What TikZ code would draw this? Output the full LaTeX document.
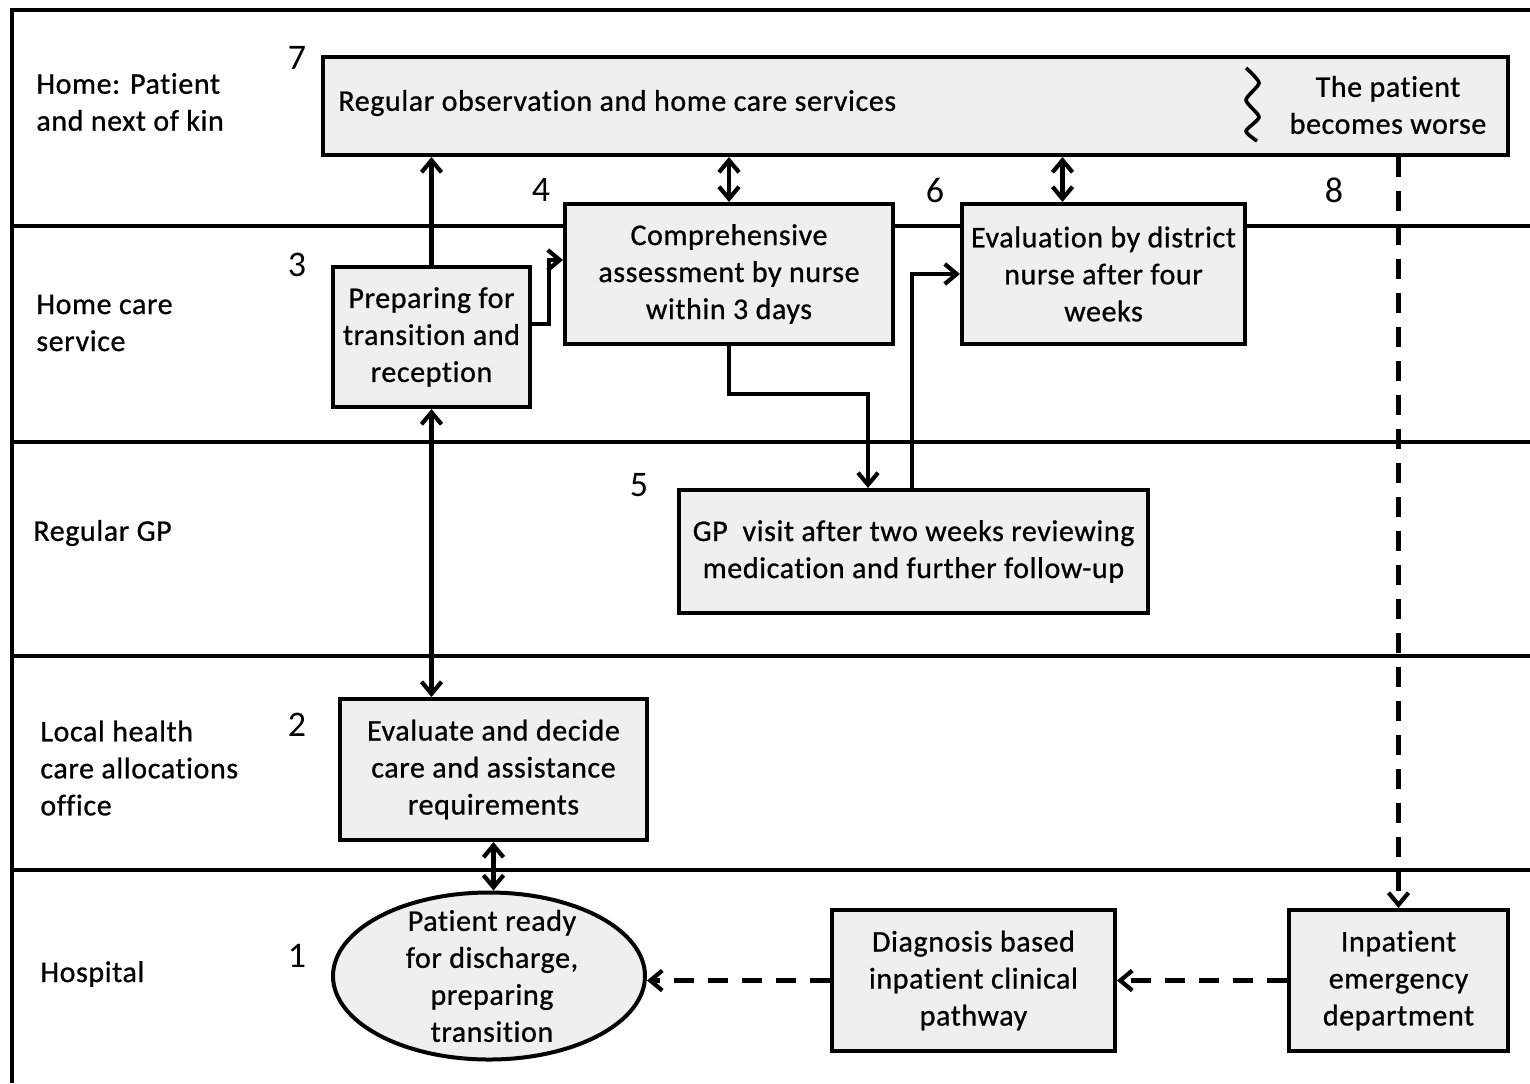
\documentclass[tikz,border=0pt]{standalone}
\usepackage{fontspec}
\setmainfont{Carlito}[LetterSpace=2, FakeBold=0.8, Ligatures=NoCommon]
\newfontfamily\numfont{Carlito}
\usetikzlibrary{arrows.meta,shapes.geometric}
\definecolor{boxfill}{HTML}{EFEFEF}
\begin{document}
\begin{tikzpicture}[x=0.5pt,y=-0.5pt,
  every node/.style={font=\fontsize{15}{18.5}\selectfont, inner sep=0pt},
  stepbox/.style={draw, line width=2pt, fill=boxfill, anchor=north west, align=center},
  lane/.style={line width=1.6pt},
  lanelabel/.style={anchor=west, align=left},
  num/.style={font=\numfont\fontsize{18}{20}\selectfont},
  arr/.style={line width=2.1pt, -{Straight Barb[length=6pt,width=10pt]}},
  darr/.style={line width=2.1pt, {Straight Barb[length=6pt,width=10pt]}-{Straight Barb[length=6pt,width=10pt]}},
  dasharr/.style={arr, dash pattern=on 10pt off 7pt}
]
\useasboundingbox (0,0) rectangle (1530,1083);

% swimlane frame and separators
\draw[lane] (12,1083) -- (12,10) -- (1530,10);
\foreach \yy in {226,442,656,870} \draw[lane] (12,\yy) -- (1530,\yy);

% lane titles
\node[lanelabel] (l1) at (36,102) {Home: Patient\\and next of kin};
\node[lanelabel] (l2) at (36,323) {Home care\\service};
\node[lanelabel] (l3) at (33,533) {Regular GP};
\node[lanelabel] (l4) at (40,768) {Local health\\care allocations\\office};
\node[lanelabel] (l5) at (40,974) {Hospital};

% process steps
\node[stepbox, minimum width=592.5pt, minimum height=49pt] (b7) at (321,55) {};
\node[anchor=west] (t7) at (338,103) {Regular observation and home care services};
\node[align=center] (tw) at (1388,105) {The patient\\becomes worse};
\draw[line width=1.8pt] plot[smooth, tension=0.4] coordinates
  {(1246,68) (1259,83) (1246,100) (1259,117) (1246,131) (1257,141)};

\node[stepbox, minimum width=164pt, minimum height=70pt] (b4) at (563,202) {};
\node[align=center] at (b4.center) {Comprehensive\\assessment by nurse\\within 3 days};
\node[stepbox, minimum width=141.5pt, minimum height=70pt] (b6) at (960,202) {};
\node[align=center] at (b6.center) {Evaluation by district\\nurse after four\\weeks};
\node[stepbox, minimum width=98.5pt, minimum height=70pt] (b3) at (331,265) {};
\node[align=center] at (b3.center) {Preparing for\\transition and\\reception};
\node[stepbox, minimum width=234.5pt, minimum height=61.5pt] (b5) at (677,488) {};
\node[align=center] at (b5.center) {GP\ \ visit after two weeks reviewing\\medication and further follow-up};
\node[stepbox, minimum width=153.5pt, minimum height=70.5pt] (b2) at (338,697) {};
\node[align=center] at (b2.center) {Evaluate and decide\\care and assistance\\requirements};
\node[draw, line width=2pt, fill=boxfill, ellipse, minimum width=156pt, minimum height=83.5pt] (e1) at (489,976) {};
\node[align=center] at ([xshift=1.5pt]e1.center) {Patient ready\\for discharge,\\preparing\\transition};
\node[stepbox, minimum width=141.5pt, minimum height=70.5pt] (bd) at (830,908) {};
\node[align=center] at (bd.center) {Diagnosis based\\inpatient clinical\\pathway};
\node[stepbox, minimum width=109.5pt, minimum height=70.5pt] (bi) at (1287,908) {};
\node[align=center] at (bi.center) {Inpatient\\emergency\\department};

% step numbers
\node[num] (n7) at (297,58) {7};
\node[num] (n4) at (541,190) {4};
\node[num] (n6) at (935,190) {6};
\node[num] (n8) at (1334,190) {8};
\node[num] (n3) at (297,265) {3};
\node[num] (n5) at (639,485) {5};
\node[num] (n2) at (297,725) {2};
\node[num] (n1) at (297,956) {1};

% connectors
\draw[arr] (b3.north) -- (b3.north |- b7.south);
\draw[arr] ([yshift=6.5pt]b3.east) -- ++(8.5pt,0) |- ([yshift=7pt]b4.west);
\draw[darr] (b4.north) -- (b4.north |- b7.south);
\draw[darr] ([xshift=-20.5pt]b6.north) -- ([xshift=-20.5pt]b6.north |- b7.south);
\draw[arr] (b4.south) -- ++(0,-24pt) -| ([xshift=-22.75pt]b5.north);
\draw[arr] ([xshift=-0.75pt]b5.north) |- (b6.west);
\draw[darr] (b3.south) -- (b3.south |- b2.north);
\draw[darr] (b2.south) -- (b2.south |- e1.north);
\draw[dasharr] (bi.north |- b7.south) -- (bi.north);
\draw[dasharr] (bi.west) -- (bd.east);
\draw[dasharr] (bd.west) -- (bd.west -| e1.east);
\end{tikzpicture}
\end{document}
